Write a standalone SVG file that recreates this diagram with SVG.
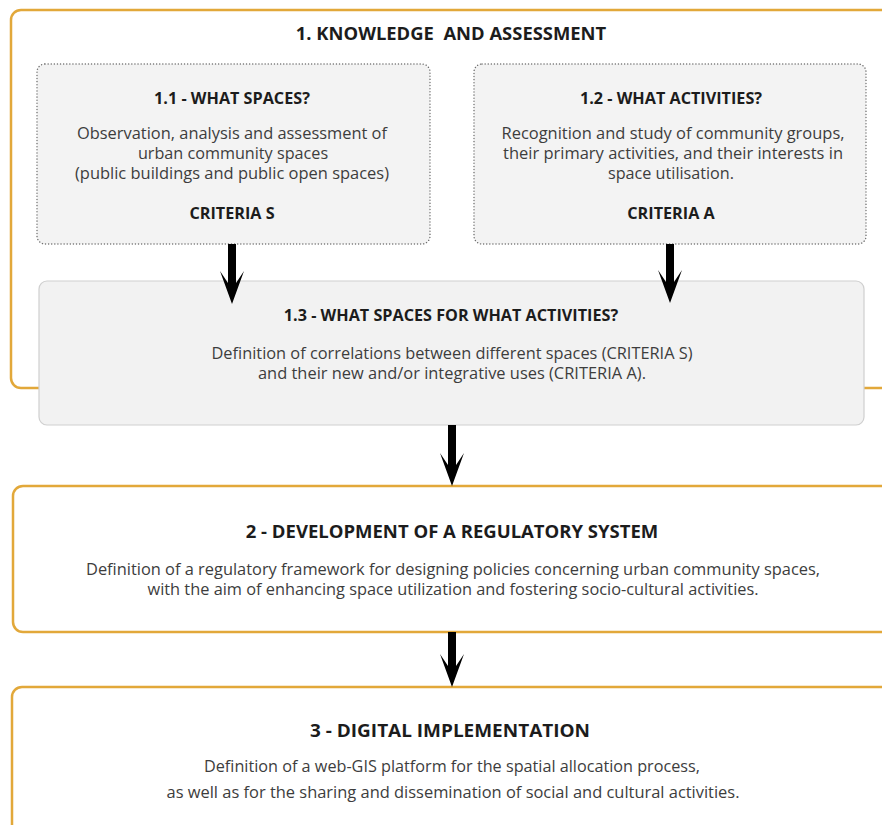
<svg xmlns="http://www.w3.org/2000/svg" width="882" height="825" viewBox="0 0 882 825">
  <defs>
    <style>
      .frame { fill: #ffffff; stroke: #e2a83a; stroke-width: 2.5; }
      .dotted { fill: #f3f3f3; stroke: #6f6f6f; stroke-width: 1.4; stroke-dasharray: 0.1 3; stroke-linecap: round; }
      .soft { fill: #f2f2f2; stroke: #cfcfcf; stroke-width: 1.2; }
      text { font-family: "Open Sans", "DejaVu Sans", sans-serif; text-anchor: middle; }
      .h0 { font-size: 18.4px; font-weight: 700; fill: #1c1c1c; white-space: pre; }
      .h1 { font-size: 16.2px; font-weight: 700; fill: #1c1c1c; }
      .h2 { font-size: 18.5px; font-weight: 700; fill: #1c1c1c; }
      .b { font-size: 16.2px; fill: #3d3d3d; }
      .b2 { font-size: 16px; fill: #3d3d3d; }
      .arrow { fill: #000000; }
    </style>
    <path id="arrowhead" d="M0 0 L-12 -33 L-4 -21 L4 -21 L12 -33 Z"/>
  </defs>

  <!-- Section 1 frame -->
  <g id="section1">
    <rect class="frame" x="11" y="10" width="900" height="378" rx="10"/>
    <text class="h0" x="451" y="40">1. KNOWLEDGE  AND ASSESSMENT</text>
  </g>

  <!-- 1.1 -->
  <g id="node-1-1">
    <rect class="dotted" x="37" y="64" width="393" height="180" rx="8"/>
    <text class="h1" x="232" y="104">1.1 - WHAT SPACES?</text>
    <text class="b" x="232" y="139" textLength="310" lengthAdjust="spacingAndGlyphs">Observation, analysis and assessment of</text>
    <text class="b" x="233" y="159">urban community spaces</text>
    <text class="b" x="232" y="179" textLength="314" lengthAdjust="spacingAndGlyphs">(public buildings and public open spaces)</text>
    <text class="h1" x="232" y="219">CRITERIA S</text>
  </g>

  <!-- 1.2 -->
  <g id="node-1-2">
    <rect class="dotted" x="474" y="64" width="392" height="180" rx="8"/>
    <text class="h1" x="671" y="104">1.2 - WHAT ACTIVITIES?</text>
    <text class="b" x="673" y="139" textLength="343" lengthAdjust="spacingAndGlyphs">Recognition and study of community groups,</text>
    <text class="b" x="673" y="159" textLength="340" lengthAdjust="spacingAndGlyphs">their primary activities, and their interests in</text>
    <text class="b" x="671" y="179">space utilisation.</text>
    <text class="h1" x="671" y="219">CRITERIA A</text>
  </g>

  <!-- 1.3 -->
  <g id="node-1-3">
    <rect class="soft" x="39" y="281" width="825" height="144" rx="8"/>
    <text class="h1" x="451" y="321">1.3 - WHAT SPACES FOR WHAT ACTIVITIES?</text>
    <text class="b" x="452" y="359" textLength="481" lengthAdjust="spacingAndGlyphs">Definition of correlations between different spaces (CRITERIA S)</text>
    <text class="b" x="452" y="379" textLength="388" lengthAdjust="spacingAndGlyphs">and their new and/or integrative uses (CRITERIA A).</text>
  </g>

  <!-- 2 -->
  <g id="node-2">
    <rect class="frame" x="13" y="486" width="900" height="146" rx="10"/>
    <text class="h2" x="452" y="538">2 - DEVELOPMENT OF A REGULATORY SYSTEM</text>
    <text class="b2" x="453" y="575" textLength="734" lengthAdjust="spacingAndGlyphs">Definition of a regulatory framework for designing policies concerning urban community spaces,</text>
    <text class="b2" x="453" y="595" textLength="611" lengthAdjust="spacingAndGlyphs">with the aim of enhancing space utilization and fostering socio-cultural activities.</text>
  </g>

  <!-- 3 -->
  <g id="node-3">
    <rect class="frame" x="12" y="687" width="900" height="170" rx="10"/>
    <text class="h2" x="450" y="737" textLength="280" lengthAdjust="spacingAndGlyphs">3 - DIGITAL IMPLEMENTATION</text>
    <text class="b2" x="452" y="772" textLength="496" lengthAdjust="spacingAndGlyphs">Definition of a web-GIS platform for the spatial allocation process,</text>
    <text class="b2" x="453" y="798" textLength="573" lengthAdjust="spacingAndGlyphs">as well as for the sharing and dissemination of social and cultural activities.</text>
  </g>

  <!-- Connectors -->
  <g id="connectors" class="arrow">
    <rect x="228" y="244" width="8" height="40"/>
    <use href="#arrowhead" x="232" y="304"/>
    <rect x="666" y="244" width="8" height="40"/>
    <use href="#arrowhead" x="670" y="303"/>
    <rect x="448" y="425" width="8" height="42"/>
    <use href="#arrowhead" x="452" y="486"/>
    <rect x="448" y="632" width="8" height="36"/>
    <use href="#arrowhead" x="452" y="687"/>
  </g>
</svg>
